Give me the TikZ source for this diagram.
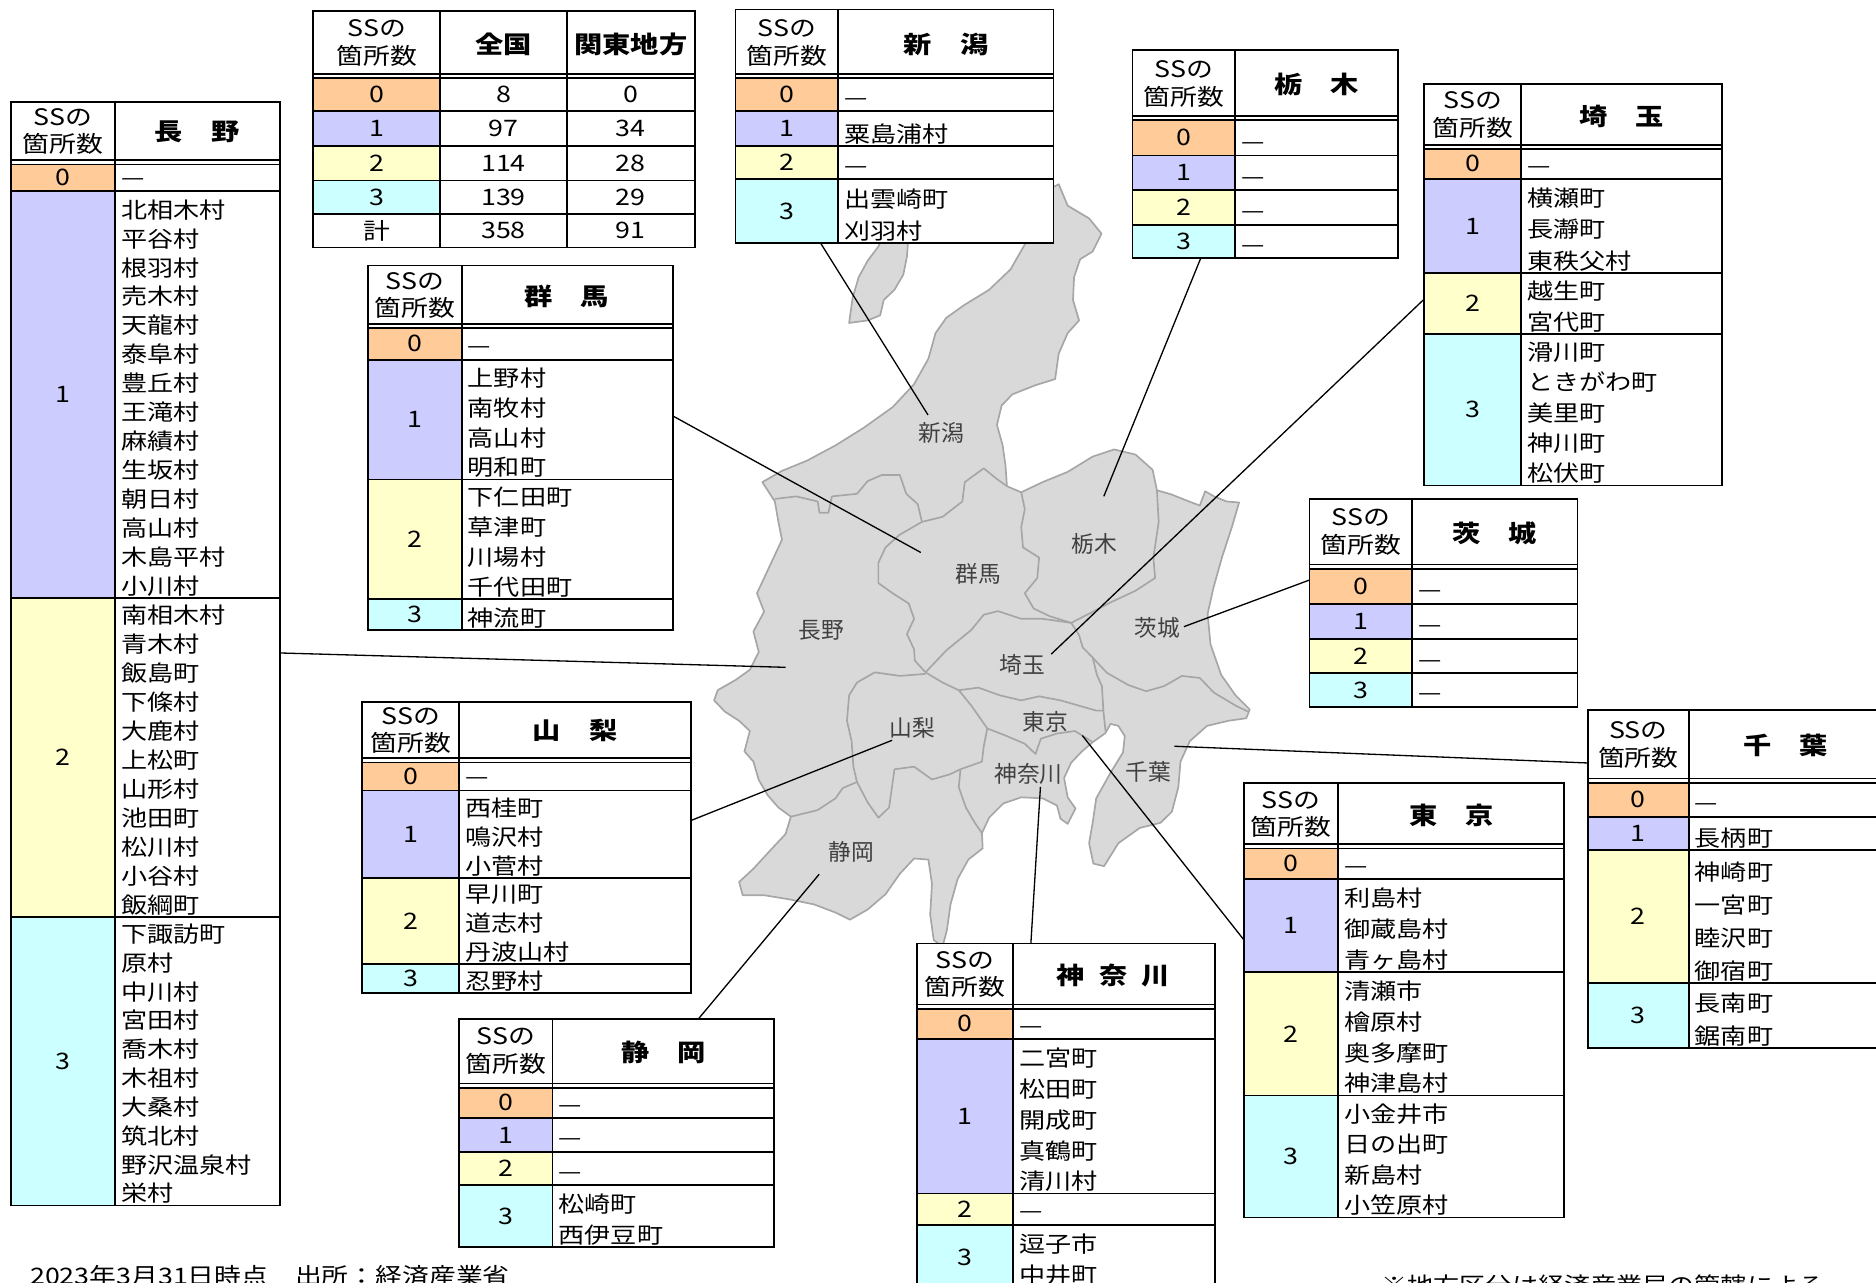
\documentclass[tikz,border=0pt]{standalone}
\usepackage{fontspec}
\setmainfont{Noto Sans CJK JP}[FakeStretch=1.18]
\newfontfamily\mapfont{Noto Sans CJK JP}
\definecolor{ss0}{HTML}{FFCC99}
\definecolor{ss1}{HTML}{CCCCFF}
\definecolor{ss2}{HTML}{FFFFCC}
\definecolor{ss3}{HTML}{CCFFFF}
\definecolor{landgray}{HTML}{D9D9D9}
\definecolor{bordergray}{HTML}{A6A6A6}
\definecolor{labelgray}{HTML}{404040}
\tikzset{
  tabline/.style={line width=1.5pt},
  headtxt/.style={align=center, inner sep=0pt, font=\fontsize{19}{23}\selectfont},
  titletxt/.style={inner sep=0pt, font=\bfseries\fontsize{20}{24}\selectfont},
  numtxt/.style={inner sep=0pt, font=\fontsize{19}{22}\selectfont},
  nametxt/.style={anchor=base west, align=left, inner sep=0pt, font=\fontsize{18.5}{#1}\selectfont},
  nametxt/.default=24,
  maplabel/.style={font=\mapfont\fontsize{19}{21}\selectfont, text=labelgray},
  land/.style={fill=landgray, draw=bordergray, line width=1.4pt, line join=round},
  boundary/.style={draw=bordergray, line width=1.4pt, line join=round},
  leader/.style={line width=1.1pt},
}
\begin{document}
\begin{tikzpicture}[x=1pt,y=-1pt]
\useasboundingbox (0,0) rectangle (1568.7,1072);

% map
\begin{scope}[shift={(585.2,142.1)},xscale=0.2986,yscale=0.4265]
  \path[land] (175,612) -- (230,590) -- (300,570) -- (380,540) -- (460,505) -- (540,465) -- (600,420) -- (640,370) -- (660,320) -- (690,290) -- (740,265) -- (810,235) -- (870,195) -- (915,140) -- (950,85) -- (985,35) -- (1005,28) -- (1030,70) -- (1090,95) -- (1125,125) -- (1100,160) -- (1065,175) -- (1048,210) -- (1045,255) -- (1062,295) -- (1030,320) -- (1005,360) -- (995,410) -- (940,422) -- (875,440) -- (845,462) -- (832,500) -- (848,540) -- (856,580) -- (860,620) -- (900,632) -- (960,612) -- (1030,592) -- (1100,562) -- (1160,548) -- (1220,558) -- (1268,588) -- (1280,628) -- (1320,636) -- (1370,650) -- (1400,658) -- (1415,630) -- (1440,640) -- (1475,650) -- (1510,652) -- (1490,700) -- (1462,760) -- (1438,820) -- (1422,870) -- (1430,930) -- (1460,990) -- (1500,1030) -- (1540,1058) -- (1530,1075) -- (1480,1080) -- (1420,1090) -- (1372,1120) -- (1346,1160) -- (1340,1210) -- (1322,1258) -- (1290,1280) -- (1232,1290) -- (1172,1320) -- (1132,1365) -- (1102,1360) -- (1090,1320) -- (1100,1280) -- (1110,1232) -- (1150,1182) -- (1185,1142) -- (1190,1110) -- (1172,1090) -- (1150,1086) -- (1136,1104) -- (1100,1122) -- (1070,1140) -- (1040,1162) -- (1020,1192) -- (1030,1230) -- (1052,1252) -- (1030,1282) -- (1010,1272) -- (1000,1246) -- (960,1232) -- (900,1230) -- (850,1242) -- (810,1270) -- (790,1300) -- (792,1330) -- (752,1352) -- (722,1390) -- (702,1440) -- (692,1490) -- (680,1522) -- (655,1510) -- (645,1460) -- (650,1400) -- (640,1352) -- (600,1350) -- (560,1380) -- (520,1420) -- (470,1450) -- (420,1470) -- (380,1456) -- (320,1440) -- (250,1430) -- (180,1422) -- (120,1422) -- (110,1396) -- (150,1370) -- (200,1332) -- (240,1302) -- (255,1268) -- (220,1250) -- (190,1226) -- (165,1196) -- (150,1160) -- (125,1140) -- (140,1100) -- (110,1080) -- (70,1062) -- (40,1040) -- (50,1020) -- (100,1000) -- (140,980) -- (165,945) -- (150,905) -- (180,866) -- (160,830) -- (180,800) -- (200,770) -- (230,725) -- (220,690) -- (210,650) -- cycle;
  % Sado
  \path[land] (418,300) -- (428,250) -- (445,210) -- (470,178) -- (500,150) -- (520,120) -- (560,100) -- (585,120) -- (580,170) -- (570,205) -- (545,235) -- (515,255) -- (505,285) -- (470,295) -- cycle;
  % prefecture borders
  \draw[boundary] (210,645) -- (270,640) -- (330,650) -- (335,672) -- (360,672) -- (370,640) -- (440,635) -- (470,610) -- (510,598) -- (560,598) -- (578,635) -- (610,655) -- (622,690);
  \draw[boundary] (622,690) -- (680,680) -- (735,650) -- (742,612) -- (795,585) -- (830,605) -- (860,620);
  \draw[boundary] (900,632) -- (910,665) -- (900,700) -- (905,740) -- (950,760) -- (945,800) -- (910,830) -- (935,860) -- (980,875) -- (1040,888);
  \draw[boundary] (1280,628) -- (1285,690) -- (1270,760) -- (1275,800) -- (1220,825) -- (1150,848) -- (1090,870) -- (1040,888);
  \draw[boundary] (622,690) -- (560,715) -- (520,740) -- (500,770) -- (500,810) -- (540,830) -- (585,850) -- (600,880) -- (580,910) -- (600,940) -- (602,962) -- (632,985);
  \draw[boundary] (632,985) -- (690,942) -- (760,902) -- (795,872) -- (835,865) -- (900,880) -- (960,880) -- (1040,888);
  \draw[boundary] (1040,888) -- (1062,912) -- (1072,936) -- (1100,956) -- (1112,990) -- (1126,1012) -- (1130,1060) -- (1136,1100);
  \draw[boundary] (1100,956) -- (1140,986) -- (1200,1010) -- (1250,1022) -- (1300,1012) -- (1350,992) -- (1400,996) -- (1440,1025) -- (1500,1050) -- (1535,1062);
  \draw[boundary] (725,1020) -- (780,1015) -- (840,1030) -- (900,1040) -- (950,1032) -- (1010,1040) -- (1060,1050) -- (1110,1060) -- (1130,1060);
  \draw[boundary] (632,985) -- (680,1005) -- (725,1020);
  \draw[boundary] (632,988) -- (560,992) -- (490,985) -- (440,1005) -- (418,1030) -- (412,1080) -- (425,1120) -- (430,1170) -- (440,1200);
  \draw[boundary] (440,1200) -- (400,1212) -- (380,1232) -- (330,1255) -- (255,1268);
  \draw[boundary] (440,1200) -- (470,1240) -- (500,1270) -- (530,1250) -- (545,1175) -- (600,1170) -- (650,1195) -- (700,1185) -- (730,1175);
  \draw[boundary] (725,1020) -- (760,1050) -- (790,1080) -- (805,1095);
  \draw[boundary] (805,1095) -- (795,1130) -- (790,1160) -- (730,1175);
  \draw[boundary] (805,1095) -- (860,1110) -- (910,1125) -- (940,1145) -- (955,1115) -- (1000,1105) -- (1050,1100) -- (1085,1115) -- (1100,1122);
  \draw[boundary] (730,1175) -- (725,1210) -- (745,1250) -- (770,1280) -- (790,1300);
\end{scope}

\node[maplabel] (lbl-niigata) at (787,362) {新潟};
\node[maplabel] (lbl-gunma) at (818,480) {群馬};
\node[maplabel] (lbl-tochigi) at (915,455) {栃木};
\node[maplabel] (lbl-nagano) at (687,527) {長野};
\node[maplabel] (lbl-ibaraki) at (968,525) {茨城};
\node[maplabel] (lbl-saitama) at (855,556) {埼玉};
\node[maplabel] (lbl-yamanashi) at (763,609) {山梨};
\node[maplabel] (lbl-tokyo) at (874,604) {東京};
\node[maplabel] (lbl-chiba) at (960,645) {千葉};
\node[maplabel] (lbl-kanagawa) at (860,647) {神奈川};
\node[maplabel] (lbl-shizuoka) at (712,712) {静岡};

% leader lines
\coordinate (niigata-a) at (686,203);    \coordinate (niigata-b) at (776,347);
\coordinate (gunma-a) at (563,348);      \coordinate (gunma-b) at (770,462);
\coordinate (nagano-a) at (234,546);     \coordinate (nagano-b) at (657,558);
\coordinate (tochigi-a) at (1004,216);   \coordinate (tochigi-b) at (923,415);
\coordinate (saitama-a) at (1191,250);   \coordinate (saitama-b) at (879,547);
\coordinate (ibaraki-a) at (1095,485);   \coordinate (ibaraki-b) at (990,524);
\coordinate (chiba-a) at (1328,638);     \coordinate (chiba-b) at (982,624);
\coordinate (tokyo-a) at (1041,787);     \coordinate (tokyo-b) at (905,615);
\coordinate (kanagawa-a) at (862,789);   \coordinate (kanagawa-b) at (870,658);
\coordinate (yamanashi-a) at (578,686);  \coordinate (yamanashi-b) at (746,619);
\coordinate (shizuoka-a) at (584,852);   \coordinate (shizuoka-b) at (685,731);
\foreach \p in {niigata,gunma,nagano,tochigi,saitama,ibaraki,chiba,tokyo,kanagawa,yamanashi,shizuoka}
  \draw[leader] (\p-a) -- (\p-b);

% 全国 / 関東地方
\fill[white] (262,9) rectangle (581,207);
\foreach \n/\ya/\yb/\za/\zb in {0/65/93/8/0,1/93/122/97/34,2/122/151/114/28,3/151/179/139/29}{
  \fill[ss\n] (262,\ya) rectangle (368,\yb);
  \node[numtxt] (all-n\n) at (315,{(\ya+\yb)/2}) {\n};
  \node[numtxt] (all-z\n) at (421,{(\ya+\yb)/2}) {\za};
  \node[numtxt] (all-k\n) at (527.5,{(\ya+\yb)/2}) {\zb};
}
\node[numtxt] (all-n4) at (315,193) {計};
\node[numtxt] (all-z4) at (421,193) {358};
\node[numtxt] (all-k4) at (527.5,193) {91};
\foreach \y in {62,65.5,93,122,151,179} \draw[tabline] (262,\y) -- (581,\y);
\draw[tabline] (262,9) rectangle (581,207);
\draw[tabline] (368,9) -- (368,207) (474,9) -- (474,207);
\node[headtxt] (all-h) at (315,36) {SSの\\箇所数};
\node[titletxt] (all-t1) at (421,37) {全国};
\node[titletxt] (all-t2) at (527.5,37) {関東地方};

% 長野
\fill[white] (9,85) rectangle (234,1008);
\foreach \n/\ya/\yb in {0/137/160,1/160/500,2/500/767,3/767/1008}{
  \fill[ss\n] (9,\ya) rectangle (96,\yb);
  \node[numtxt] (nagano-n\n) at (52.5,{(\ya+\yb)/2}) {\n};
}
\foreach \y in {134,137.5,160,500,767} \draw[tabline] (9,\y) -- (234,\y);
\draw[tabline] (9,85) rectangle (234,1008);
\draw[tabline] (96,85) -- (96,1008);
\node[headtxt] (nagano-h) at (52.5,110) {SSの\\箇所数};
\node[titletxt] (nagano-t) at (165,110) {長　野};
\node[nametxt] (nagano-0) at (101,155) {—};
\node[nametxt=24.2] (nagano-1) at (101,497) {北相木村\\平谷村\\根羽村\\売木村\\天龍村\\泰阜村\\豊丘村\\王滝村\\麻績村\\生坂村\\朝日村\\高山村\\木島平村\\小川村};
\node[nametxt=24.3] (nagano-2) at (101,764) {南相木村\\青木村\\飯島町\\下條村\\大鹿村\\上松町\\山形村\\池田町\\松川村\\小谷村\\飯綱町};
\node[nametxt=24.1] (nagano-3) at (101,1005) {下諏訪町\\原村\\中川村\\宮田村\\喬木村\\木祖村\\大桑村\\筑北村\\野沢温泉村\\栄村};

% 新潟
\fill[white] (615,8) rectangle (881,203);
\foreach \n/\ya/\yb in {0/65/93,1/93/122,2/122/150,3/150/203}{
  \fill[ss\n] (615,\ya) rectangle (701,\yb);
  \node[numtxt] (niigata-n\n) at (658,{(\ya+\yb)/2}) {\n};
}
\foreach \y in {62,65.5,93,122,150} \draw[tabline] (615,\y) -- (881,\y);
\draw[tabline] (615,8) rectangle (881,203);
\draw[tabline] (701,8) -- (701,203);
\node[headtxt] (niigata-h) at (658,36) {SSの\\箇所数};
\node[titletxt] (niigata-t) at (791,37) {新　潟};
\node[nametxt] (niigata-0) at (706,88) {—};
\node[nametxt] (niigata-1) at (706,119) {粟島浦村};
\node[nametxt] (niigata-2) at (706,145) {—};
\node[nametxt=26.5] (niigata-3) at (706,200) {出雲崎町\\刈羽村};

% 栃木
\fill[white] (947,42) rectangle (1169,216);
\foreach \n/\ya/\yb in {0/100/130,1/130/159,2/159/188,3/188/216}{
  \fill[ss\n] (947,\ya) rectangle (1033,\yb);
  \node[numtxt] (tochigi-n\n) at (990,{(\ya+\yb)/2}) {\n};
  \node[nametxt] (tochigi-\n) at (1038,\yb-5) {—};
}
\foreach \y in {97,100.5,130,159,188} \draw[tabline] (947,\y) -- (1169,\y);
\draw[tabline] (947,42) rectangle (1169,216);
\draw[tabline] (1033,42) -- (1033,216);
\node[headtxt] (tochigi-h) at (990,70) {SSの\\箇所数};
\node[titletxt] (tochigi-t) at (1101,71) {栃　木};

% 埼玉
\fill[white] (1191,70) rectangle (1440,406);
\foreach \n/\ya/\yb in {0/124/150,1/150/228,2/228/279,3/279/406}{
  \fill[ss\n] (1191,\ya) rectangle (1272,\yb);
  \node[numtxt] (saitama-n\n) at (1231.5,{(\ya+\yb)/2}) {\n};
}
\foreach \y in {121,124.5,150,228,279} \draw[tabline] (1191,\y) -- (1440,\y);
\draw[tabline] (1191,70) rectangle (1440,406);
\draw[tabline] (1272,70) -- (1272,406);
\node[headtxt] (saitama-h) at (1231.5,96) {SSの\\箇所数};
\node[titletxt] (saitama-t) at (1356,97) {埼　玉};
\node[nametxt] (saitama-0) at (1277,145) {—};
\node[nametxt=26] (saitama-1) at (1277,225) {横瀬町\\長瀞町\\東秩父村};
\node[nametxt=25.5] (saitama-2) at (1277,276) {越生町\\宮代町};
\node[nametxt=25.4] (saitama-3) at (1277,403) {滑川町\\ときがわ町\\美里町\\神川町\\松伏町};

% 群馬
\fill[white] (308,222) rectangle (563,527);
\foreach \n/\ya/\yb in {0/274/301,1/301/401,2/401/501,3/501/527}{
  \fill[ss\n] (308,\ya) rectangle (386,\yb);
  \node[numtxt] (gunma-n\n) at (347,{(\ya+\yb)/2}) {\n};
}
\foreach \y in {271,274.5,301,401,501} \draw[tabline] (308,\y) -- (563,\y);
\draw[tabline] (308,222) rectangle (563,527);
\draw[tabline] (386,222) -- (386,527);
\node[headtxt] (gunma-h) at (347,247) {SSの\\箇所数};
\node[titletxt] (gunma-t) at (474,248) {群　馬};
\node[nametxt] (gunma-0) at (391,296) {—};
\node[nametxt=25] (gunma-1) at (391,398) {上野村\\南牧村\\高山村\\明和町};
\node[nametxt=25] (gunma-2) at (391,498) {下仁田町\\草津町\\川場村\\千代田町};
\node[nametxt] (gunma-3) at (391,524) {神流町};

% 山梨
\fill[white] (303,587) rectangle (578,830);
\foreach \n/\ya/\yb in {0/637/661,1/661/734,2/734/806,3/806/830}{
  \fill[ss\n] (303,\ya) rectangle (384,\yb);
  \node[numtxt] (yamanashi-n\n) at (343.5,{(\ya+\yb)/2}) {\n};
}
\foreach \y in {634,637.5,661,734,806} \draw[tabline] (303,\y) -- (578,\y);
\draw[tabline] (303,587) rectangle (578,830);
\draw[tabline] (384,587) -- (384,830);
\node[headtxt] (yamanashi-h) at (343.5,611) {SSの\\箇所数};
\node[titletxt] (yamanashi-t) at (481,611) {山　梨};
\node[nametxt] (yamanashi-0) at (389,656) {—};
\node[nametxt=24.3] (yamanashi-1) at (389,731) {西桂町\\鳴沢村\\小菅村};
\node[nametxt=24.3] (yamanashi-2) at (389,803) {早川町\\道志村\\丹波山村};
\node[nametxt] (yamanashi-3) at (389,827) {忍野村};

% 茨城
\fill[white] (1095,417) rectangle (1319,591);
\foreach \n/\ya/\yb in {0/475/505,1/505/534,2/534/563,3/563/591}{
  \fill[ss\n] (1095,\ya) rectangle (1181,\yb);
  \node[numtxt] (ibaraki-n\n) at (1138,{(\ya+\yb)/2}) {\n};
  \node[nametxt] (ibaraki-\n) at (1186,\yb-5) {—};
}
\foreach \y in {472,475.5,505,534,563} \draw[tabline] (1095,\y) -- (1319,\y);
\draw[tabline] (1095,417) rectangle (1319,591);
\draw[tabline] (1181,417) -- (1181,591);
\node[headtxt] (ibaraki-h) at (1138,445) {SSの\\箇所数};
\node[titletxt] (ibaraki-t) at (1250,446) {茨　城};

% 千葉
\fill[white] (1328,594) rectangle (1580,876);
\foreach \n/\ya/\yb in {0/654/683,1/683/711,2/711/822,3/822/876}{
  \fill[ss\n] (1328,\ya) rectangle (1412,\yb);
  \node[numtxt] (chiba-n\n) at (1370,{(\ya+\yb)/2}) {\n};
}
\foreach \y in {651,654.5,683,711,822} \draw[tabline] (1328,\y) -- (1580,\y);
\draw[tabline] (1328,594) rectangle (1580,876);
\draw[tabline] (1412,594) -- (1412,876);
\node[headtxt] (chiba-h) at (1370,623) {SSの\\箇所数};
\node[titletxt] (chiba-t) at (1493,623) {千　葉};
\node[nametxt] (chiba-0) at (1417,678) {—};
\node[nametxt] (chiba-1) at (1417,708) {長柄町};
\node[nametxt=27.7] (chiba-2) at (1417,819) {神崎町\\一宮町\\睦沢町\\御宿町};
\node[nametxt=27] (chiba-3) at (1417,873) {長南町\\鋸南町};

% 東京
\fill[white] (1040,655) rectangle (1308,1018);
\foreach \n/\ya/\yb in {0/709/735,1/735/813,2/813/916,3/916/1018}{
  \fill[ss\n] (1040,\ya) rectangle (1119,\yb);
  \node[numtxt] (tokyo-n\n) at (1079.5,{(\ya+\yb)/2}) {\n};
}
\foreach \y in {706,709.5,735,813,916} \draw[tabline] (1040,\y) -- (1308,\y);
\draw[tabline] (1040,655) rectangle (1308,1018);
\draw[tabline] (1119,655) -- (1119,1018);
\node[headtxt] (tokyo-h) at (1079.5,681) {SSの\\箇所数};
\node[titletxt] (tokyo-t) at (1214,682) {東　京};
\node[nametxt] (tokyo-0) at (1124,730) {—};
\node[nametxt=26] (tokyo-1) at (1124,810) {利島村\\御蔵島村\\青ヶ島村};
\node[nametxt=25.7] (tokyo-2) at (1124,913) {清瀬市\\檜原村\\奥多摩町\\神津島村};
\node[nametxt=25.5] (tokyo-3) at (1124,1015) {小金井市\\日の出町\\新島村\\小笠原村};

% 神奈川
\fill[white] (767,789) rectangle (1016,1078);
\foreach \n/\ya/\yb in {0/843/869,1/869/998,2/998/1024,3/1024/1078}{
  \fill[ss\n] (767,\ya) rectangle (847,\yb);
  \node[numtxt] (kanagawa-n\n) at (807,{(\ya+\yb)/2}) {\n};
}
\foreach \y in {840,843.5,869,998,1024} \draw[tabline] (767,\y) -- (1016,\y);
\draw[tabline] (767,789) rectangle (1016,1078);
\draw[tabline] (847,789) -- (847,1078);
\node[headtxt] (kanagawa-h) at (807,815) {SSの\\箇所数};
\node[titletxt] (kanagawa-t) at (931,816) {神\hspace{0.6em}奈\hspace{0.6em}川};
\node[nametxt] (kanagawa-0) at (852,864) {—};
\node[nametxt=25.8] (kanagawa-1) at (852,995) {二宮町\\松田町\\開成町\\真鶴町\\清川村};
\node[nametxt] (kanagawa-2) at (852,1019) {—};
\node[nametxt=26] (kanagawa-3) at (852,1073.5) {逗子市\\中井町};

% 静岡
\fill[white] (384,852) rectangle (647,1043);
\foreach \n/\ya/\yb in {0/909/935,1/935/963,2/963/991,3/991/1043}{
  \fill[ss\n] (384,\ya) rectangle (462,\yb);
  \node[numtxt] (shizuoka-n\n) at (423,{(\ya+\yb)/2}) {\n};
}
\foreach \y in {906,909.5,935,963,991} \draw[tabline] (384,\y) -- (647,\y);
\draw[tabline] (384,852) rectangle (647,1043);
\draw[tabline] (462,852) -- (462,1043);
\node[headtxt] (shizuoka-h) at (423,879) {SSの\\箇所数};
\node[titletxt] (shizuoka-t) at (555,880) {静　岡};
\foreach \n/\yb in {0/935,1/963,2/991}
  \node[nametxt] (shizuoka-\n) at (467,\yb-5) {—};
\node[nametxt=26] (shizuoka-3) at (467,1040) {松崎町\\西伊豆町};

% notes
\node[anchor=base west, inner sep=0pt, font=\fontsize{19}{22}\selectfont] (date-note) at (25,1074) {2023年3月31日時点　出所：経済産業省};
\node[anchor=base west, inner sep=0pt, font=\fontsize{18.5}{22}\selectfont] (area-note) at (1155,1082) {※地方区分は経済産業局の管轄による};
\end{tikzpicture}
\end{document}
